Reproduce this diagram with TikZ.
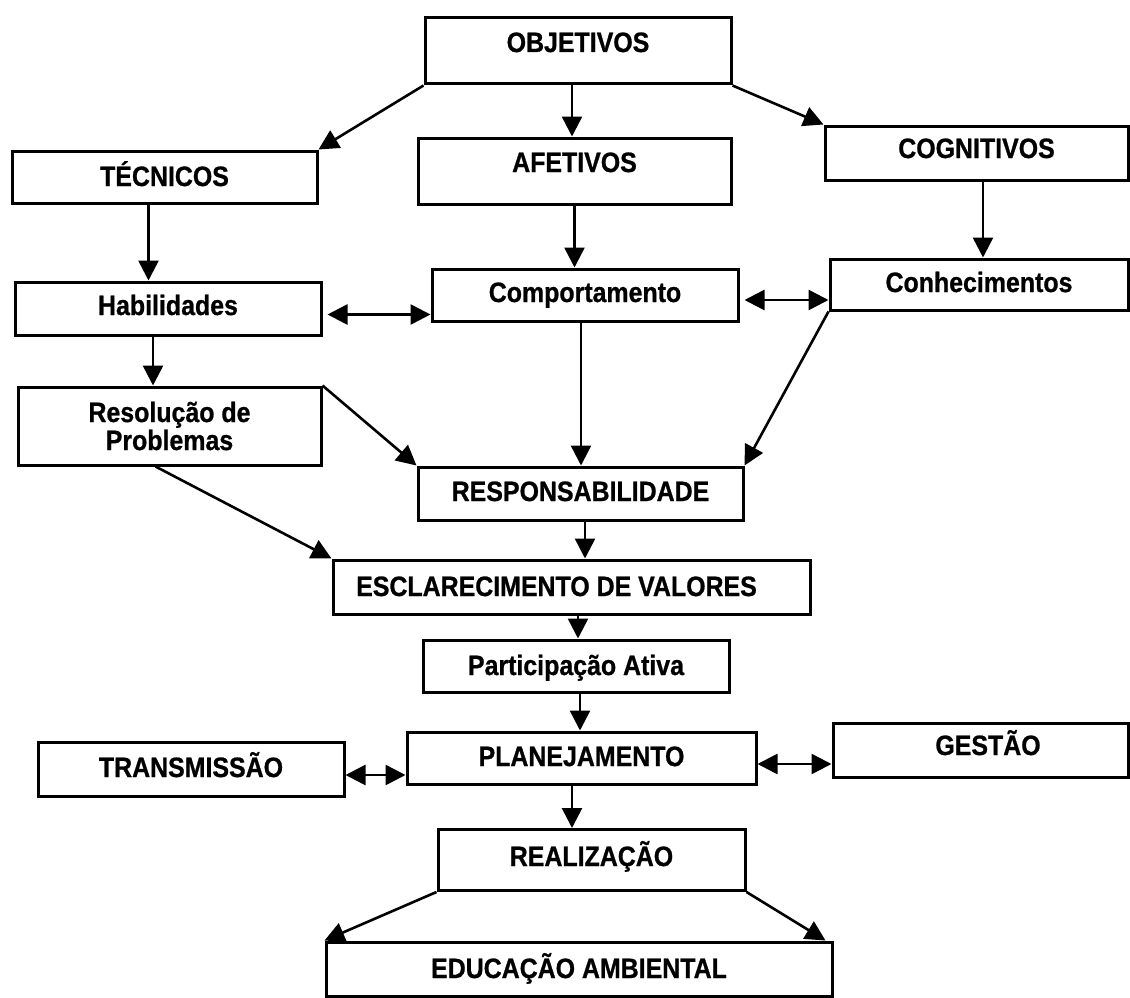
\documentclass[tikz,border=0pt]{standalone}
\usepackage{fontspec}
\setmainfont{Liberation Sans}[FakeStretch=0.89,BoldFeatures={FakeBold=0.8}]
\usetikzlibrary{arrows.meta,calc}
\begin{document}
\begin{tikzpicture}[x=1pt,y=-1pt,
  box/.style={draw,line width=3pt,inner sep=0pt,font=\bfseries\fontsize{28}{28}\selectfont},
  arr/.style={line width=2.6pt,-{Triangle[length=20pt,width=20pt]}},
  darr/.style={line width=2.6pt,{Triangle[length=20pt,width=20pt]}-{Triangle[length=20pt,width=20pt]}}]
\useasboundingbox[fill=white] (0,0) rectangle (1130,998);

\node[box,minimum width=306pt,text height=34pt,text depth=32pt] (obj) at (578,51) {OBJETIVOS};
\node[box,minimum width=305pt,text height=35pt,text depth=17pt] (tec) at (164.5,177) {TÉCNICOS};
\node[box,minimum width=313pt,text height=34pt,text depth=32pt] (afe) at (574.5,171) {AFETIVOS};
\node[box,minimum width=303pt,text height=32pt,text depth=22pt] (cog) at (976.5,153) {COGNITIVOS};
\node[box,minimum width=306pt,text height=33pt,text depth=20pt] (hab) at (168,308.5) {Habilidades};
\node[box,minimum width=306pt,text height=33pt,text depth=19pt] (com) at (585,295) {Comportamento};
\node[box,minimum width=298pt,text height=33pt,text depth=18pt] (con) at (979,284.5) {Conhecimentos};
\node[box,minimum width=303pt,minimum height=78pt,align=center] (res) at (169.5,426) {Resolução de\\Problemas};
\node[box,minimum width=325pt,text height=34pt,text depth=19pt] (rsp) at (580.5,493.5) {RESPONSABILIDADE};
\node[box,minimum width=477pt,text height=36pt,text depth=18pt] (esc) at (571.5,587) {\kern-30pt ESCLARECIMENTO DE VALORES};
\node[box,minimum width=306pt,text height=35pt,text depth=17pt] (par) at (576,666) {Participação Ativa};
\node[box,minimum width=306pt,text height=35pt,text depth=19pt] (tra) at (191,769) {TRANSMISSÃO};
\node[box,minimum width=349pt,text height=34pt,text depth=18pt] (pla) at (581.5,758) {PLANEJAMENTO};
\node[box,minimum width=295pt,text height=32pt,text depth=22pt] (ges) at (980.5,750) {GESTÃO\kern-15pt};
\node[box,minimum width=307pt,text height=36.5pt,text depth=24.5pt] (rea) at (591.5,860) {REALIZAÇÃO};
\node[box,minimum width=506pt,text height=36pt,text depth=18pt] (edu) at (579,969) {EDUCAÇÃO AMBIENTAL};

% from OBJETIVOS
\draw[arr] (obj.south west) -- (tec.north east);
\draw[arr] ([xshift=-6pt]obj.south) -- ([xshift=-6pt]obj.south |- afe.north);
\draw[arr] (obj.south east) -- (cog.north west);
% second row
\draw[arr] ([xshift=-16pt]tec.south) -- ([xshift=-16pt]tec.south |- hab.north);
\draw[arr] (afe.south) -- (afe.south |- com.north);
\draw[arr] ([xshift=6.5pt]cog.south) -- ([xshift=6.5pt]cog.south |- con.north);
% horizontal double arrows
\draw[darr,shorten <=5pt] ([yshift=-6pt]hab.east) -- ([yshift=-6pt]hab.east -| com.west);
\draw[darr,shorten <=5pt] ([yshift=-5pt]com.east) -- ([yshift=-5pt]com.east -| con.west);
% to Resolucao / Responsabilidade
\draw[arr] ([xshift=-15pt]hab.south) -- ([xshift=-15pt]hab.south |- res.north);
\draw[arr] (res.north east) -- (rsp.north west);
\draw[arr] ([xshift=-14pt]res.south) -- (esc.north west);
\draw[arr] ([xshift=-4pt]com.south) -- ([xshift=-4pt]com.south |- rsp.north);
\draw[arr] (con.south west) -- (rsp.north east);
% central column
\draw[arr] ([xshift=4.5pt]rsp.south) -- ([xshift=4.5pt]rsp.south |- esc.north);
\draw[arr] ([xshift=6.5pt]esc.south) -- ([xshift=6.5pt]esc.south |- par.north);
\draw[arr] ([xshift=4pt]par.south) -- ([xshift=4pt]par.south |- pla.north);
\draw[darr] ([yshift=-6pt]tra.east) -- ([yshift=-6pt]tra.east -| pla.west);
\draw[darr] ([yshift=-6pt]pla.east) -- ([yshift=-6pt]pla.east -| ges.west);
\draw[arr] ([xshift=-9.5pt]pla.south) -- ([xshift=-9.5pt]pla.south |- rea.north);
\draw[arr] (rea.south west) -- (edu.north west);
\draw[arr] (rea.south east) -- ([xshift=-8pt]edu.north east);
\end{tikzpicture}
\end{document}
